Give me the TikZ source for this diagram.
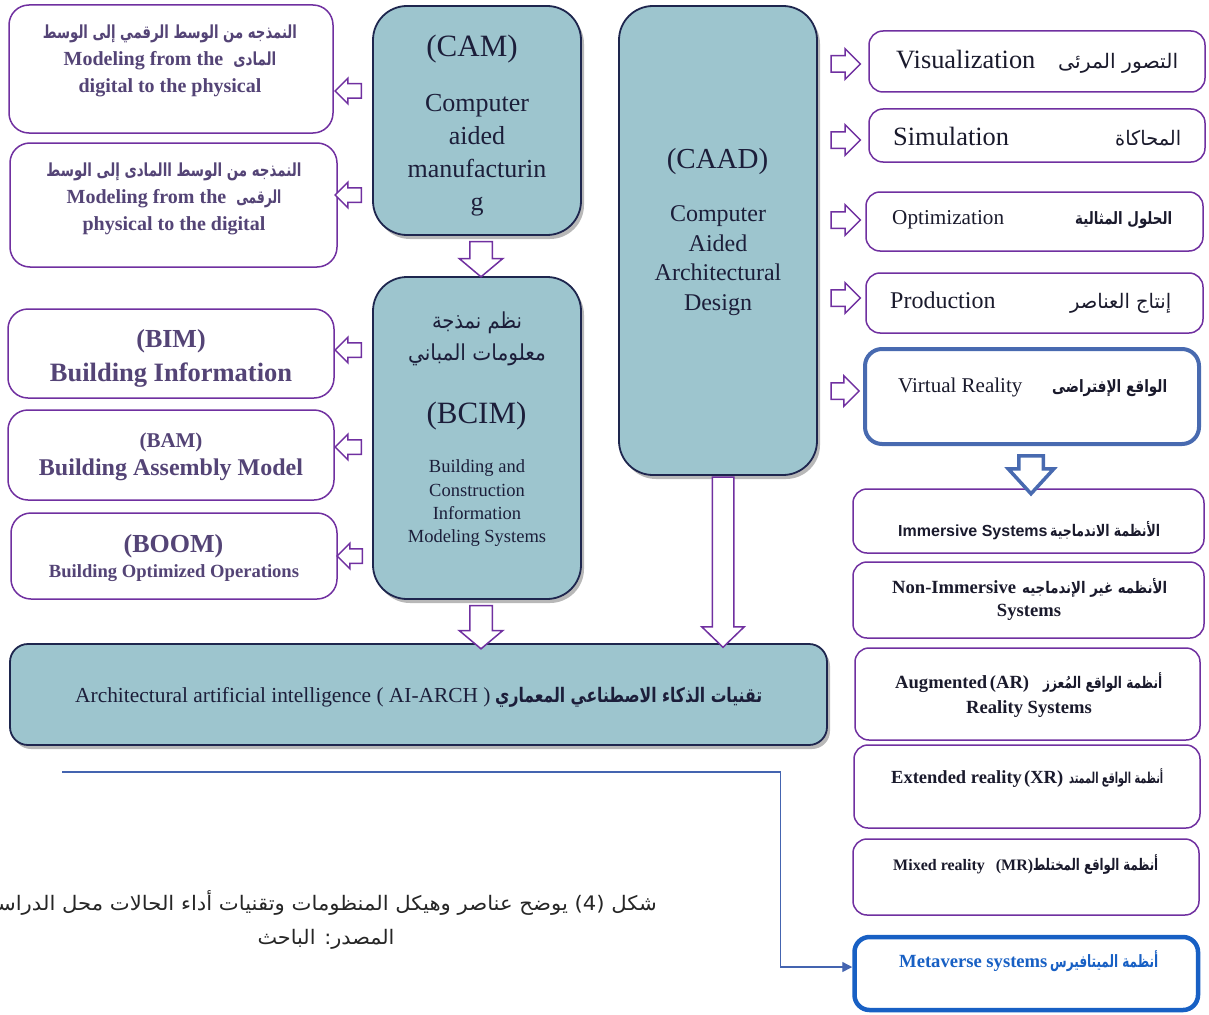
\documentclass[tikz,border=0pt]{standalone}
\usepackage{fontspec}
\usepackage{graphicx}
\setmainfont{Liberation Serif}
\newfontfamily\arabicfont[Script=Arabic]{DejaVu Sans}
\newfontfamily\latinsans{Liberation Sans}
\TeXXeTstate=1
\usetikzlibrary{calc,shapes.arrows,shadows,arrows.meta}

\definecolor{framepurple}{RGB}{112,48,160}
\definecolor{panelfill}{RGB}{157,197,206}
\definecolor{paneledge}{RGB}{30,38,78}
\definecolor{paneltext}{RGB}{28,30,58}
\definecolor{lefttext}{RGB}{84,68,118}
\definecolor{righttext}{RGB}{26,26,44}
\definecolor{vrblue}{RGB}{72,106,176}
\definecolor{metablue}{RGB}{24,96,196}
\definecolor{linkblue}{RGB}{68,100,176}

% font size helper (size = leading)
\newcommand\fsz[1]{\fontsize{#1}{#1}\selectfont}
% Arabic runs: [font size]{set width}{text}; height kept, width fitted
\newcommand\arbox[3][18]{\resizebox{#2}{\height}{\fontsize{#1}{#1}\arabicfont #3}}
\newcommand\arboxb[3][15]{\resizebox{#2}{\height}{\fontsize{#1}{#1}\arabicfont\bfseries #3}}
% box from its corners: style, name, x1, y1, x2, y2
\newcommand\boxat[6]{\node[#1, minimum width={#5-#3}, minimum height={#6-#4}] (#2) at ({(#3+#5)/2},{(#4+#6)/2}) {};}
% hollow block arrow: style, name, direction, tail point, tip point
\newcommand\blockarrow[5]{\path let \p1=#4, \p2=#5, \n1={veclen(\x2-\x1,\y2-\y1)} in
  node[#1, minimum height=\n1, shape border rotate=#3] (#2) at ($(\p1)!0.5!(\p2)$) {};}

\tikzset{
  lbox/.style={draw=framepurple, line width=1.5pt, rounded corners=20pt, fill=white, inner sep=0pt},
  rbox/.style={draw=framepurple, line width=1.5pt, rounded corners=14pt, fill=white, inner sep=0pt},
  vrbox/.style={draw=vrblue, line width=4pt, rounded corners=17pt, fill=white, inner sep=0pt},
  metabox/.style={draw=metablue, line width=4.5pt, rounded corners=15pt, fill=white, inner sep=0pt},
  panel/.style={draw=paneledge, line width=1.8pt, fill=panelfill, rounded corners=34pt, inner sep=0pt,
    drop shadow={shadow xshift=3pt, shadow yshift=-4pt, opacity=0.28, fill=black}},
  aibox/.style={panel, rounded corners=18pt},
  arrowbase/.style={single arrow, draw=framepurple, fill=white, line width=1.5pt, minimum width=0pt,
    single arrow head indent=0pt},
  harrowL/.style={arrowbase, inner sep=6.5pt, single arrow head extend=5.5pt, single arrow tip angle=90},
  harrowR/.style={arrowbase, inner sep=7.5pt, single arrow head extend=7pt, single arrow tip angle=90},
  varrow/.style={arrowbase, inner sep=10.5pt, single arrow head extend=10.5pt, single arrow tip angle=100},
  varrowC/.style={arrowbase, inner sep=10pt, single arrow head extend=10.5pt, single arrow tip angle=92},
  vrarrow/.style={arrowbase, draw=vrblue, line width=3.5pt, inner sep=10.5pt, single arrow head extend=10.5pt, single arrow tip angle=85},
  txt/.style={inner sep=0pt, anchor=base},
  link/.style={draw=linkblue, line width=1.4pt, -{Triangle[length=10pt,width=10pt]}},
}

\begin{document}
\begin{tikzpicture}[x=1pt, y=-1pt]
\fill[white] (0,0) rectangle (1209,1014);
\useasboundingbox (0,0) rectangle (1209,1014);

% ---------- boxes ----------
\boxat{lbox}{l1}{9}{5}{333}{133}
\boxat{lbox}{l2}{10}{143}{337}{267}
\boxat{lbox}{bim}{8}{309}{334}{398}
\boxat{lbox}{bam}{8}{410}{334}{500}
\boxat{lbox}{boom}{11}{513}{337}{599}
\boxat{panel}{cam}{373}{6}{581}{235}
\boxat{panel}{bcim}{373}{277}{581}{599}
\boxat{panel}{caad}{619}{6}{817}{475}
\boxat{aibox}{ai}{10}{644}{827}{745}
\boxat{rbox}{vis}{869}{31}{1205}{92}
\boxat{rbox}{sim}{869}{109}{1205}{162}
\boxat{rbox}{opt}{866}{192}{1203}{251}
\boxat{rbox}{prod}{866}{273}{1203}{333}
\boxat{vrbox}{vr}{865}{349}{1199}{444}
\boxat{rbox}{imm}{853}{489}{1204}{553}
\boxat{rbox}{nonimm}{853}{562}{1204}{638}
\boxat{rbox}{ar}{855}{648}{1200}{740}
\boxat{rbox}{xr}{854}{745}{1200}{828}
\boxat{rbox}{mr}{853}{839}{1199}{915}
\boxat{metabox}{meta}{854.5}{937}{1198}{1010}

% ---------- left column texts (node base = last line) ----------
\node[txt, align=center, text=lefttext, font=\bfseries\fontsize{20}{27}\selectfont] (tl1) at (170,93)
  {\arboxb[18]{254pt}{\beginR النمذجه من الوسط الرقمي إلى الوسط\endR}\\Modeling from the\ \ \arboxb[18]{43pt}{\beginR المادى\endR}\\digital to the physical};
\node[txt, align=center, text=lefttext, font=\bfseries\fontsize{20}{27}\selectfont] (tl2) at (174,230)
  {\arboxb[18]{255pt}{\beginR النمذجه من الوسط االمادى إلى الوسط\endR}\\Modeling from the\ \ \arboxb[18]{45pt}{\beginR الرقمى\endR}\\physical to the digital};
\node[txt, text=lefttext, font=\bfseries\fsz{26}] (tbim1) at (171,347.5) {(BIM)};
\node[txt, text=lefttext, font=\bfseries\fsz{26.5}] (tbim2) at (171,381) {Building Information};
\node[txt, text=lefttext, font=\bfseries\fsz{21}] (tbam1) at (171,447) {(BAM)};
\node[txt, text=lefttext, font=\bfseries\fsz{24}] (tbam2) at (171,475) {Building Assembly Model};
\node[txt, text=lefttext, font=\bfseries\fsz{26}] (tboom1) at (173.5,552) {(BOOM)};
\node[txt, text=lefttext, font=\bfseries\fsz{18.6}] (tboom2) at (174,577) {Building Optimized Operations};

% ---------- panel texts ----------
\node[txt, text=paneltext, font=\fsz{31}] (tcam1) at (472,57) {(CAM)};
\node[txt, align=center, text=paneltext, font=\fontsize{26}{33}\selectfont] (tcam2) at (477,210)
  {Computer\\aided\\manufacturin\\g};
\node[txt, text=paneltext, font=\fsz{29}] (tcaad1) at (717.5,168) {(CAAD)};
\node[txt, align=center, text=paneltext, font=\fontsize{24}{29.5}\selectfont] (tcaad2) at (718,310)
  {Computer\\Aided\\Architectural\\Design};
\node[txt, text=paneltext] (tbcim1) at (477,328) {\arbox[22]{90pt}{\beginR نظم نمذجة\endR}};
\node[txt, text=paneltext] (tbcim2) at (477,360) {\arbox[22]{138pt}{\beginR معلومات المباني\endR}};
\node[txt, text=paneltext, font=\fsz{31}] (tbcim3) at (476.5,423) {(BCIM)};
\node[txt, align=center, text=paneltext, font=\fontsize{18.5}{23.3}\selectfont] (tbcim4) at (477,542.6)
  {Building and\\Construction\\Information\\Modeling Systems};
\node[txt, anchor=base west, text=paneltext] (tai) at (75,702)
  {\makebox[687pt][l]{\fsz{21.4}Architectural artificial intelligence ( AI-ARCH )\hfill\arboxb[20]{267pt}{\beginR تقنيات الذكاء الاصطناعي المعماري\endR}}};

% ---------- right column texts ----------
\node[txt, anchor=base west, text=righttext] (tvis) at (896,68.3)
  {\makebox[282pt][l]{\fsz{26.4}Visualization\hfill\arbox[20]{120pt}{\beginR التصور المرئى\endR}}};
\node[txt, anchor=base west, text=righttext] (tsim) at (893,146)
  {\makebox[288pt][l]{\fsz{26.4}Simulation\hfill\arbox[20]{66pt}{\beginR المحاكاة\endR}}};
\node[txt, anchor=base west, text=righttext] (topt) at (892,224)
  {\makebox[280pt][l]{\fsz{21.2}Optimization\hfill\arboxb[17]{97pt}{\beginR الحلول المثالية\endR}}};
\node[txt, anchor=base west, text=righttext] (tprod) at (890,308)
  {\makebox[281pt][l]{\fsz{24}Production\hfill\arbox[20]{101pt}{\beginR إنتاج العناصر\endR}}};
\node[txt, anchor=base west, text=righttext] (tvr) at (898,392.7)
  {\makebox[269pt][l]{\fsz{21}Virtual Reality\hfill\arboxb[17]{115pt}{\beginR الواقع الإفتراضى\endR}}};
\node[txt, anchor=base west, text=righttext] (timm) at (898,536.7)
  {\makebox[262pt][l]{{\latinsans\bfseries\fsz{16}Immersive Systems}\hfill\arboxb[16]{110pt}{\beginR الأنظمة الاندماجية\endR}}};
\node[txt, anchor=base west, text=righttext, font=\bfseries\fsz{18.6}] (tnon1) at (892,593)
  {\makebox[275pt][l]{Non-Immersive\hfill\arboxb[16]{145pt}{\beginR الأنظمه غير الإندماجيه\endR}}};
\node[txt, text=righttext, font=\bfseries\fsz{18.6}] (tnon2) at (1029,616.7) {Systems};
\node[txt, anchor=base west, text=righttext, font=\bfseries\fsz{18.6}] (tar1) at (895,688)
  {\makebox[267pt][l]{Augmented\hfill(AR)\hspace{14pt}\arboxb[16]{119pt}{\beginR أنظمة الواقع المُعزز\endR}}};
\node[txt, text=righttext, font=\bfseries\fsz{18.6}] (tar2) at (1029,713) {Reality Systems};
\node[txt, anchor=base west, text=righttext, font=\bfseries\fsz{18.5}] (txr) at (891,783)
  {\makebox[272pt][l]{Extended reality\hfill(XR)\hspace{6pt}\arboxb[15]{94pt}{\beginR أنظمة الواقع الممتد\endR}}};
\node[txt, anchor=base west, text=righttext, font=\bfseries\fsz{16}] (tmr) at (893,870)
  {\makebox[265pt][l]{Mixed reality\hfill(MR)\arboxb[16]{125pt}{\beginR أنظمة الواقع المختلط\endR}}};
\node[txt, anchor=base west, text=metablue, font=\bfseries\fsz{18.6}] (tmeta) at (899,967.7)
  {\makebox[259pt][l]{Metaverse systems\hfill\arboxb[17]{108pt}{\beginR أنظمة الميتافيرس\endR}}};

% ---------- caption ----------
\node[txt, anchor=base east, text=black!85] (cap1) at (657,910)
  {\arbox[20]{670pt}{\beginR شكل \beginL(4)\endL{} يوضح عناصر وهيكل المنظومات وتقنيات أداء الحالات محل الدراسة\endR}};
\node[txt, text=black!85] (cap2) at (326,944) {\arbox[20]{137pt}{\beginR المصدر: الباحث\endR}};

% ---------- block arrows ----------
\blockarrow{harrowL}{a1}{180}{($(cam.west|-0,91)+(-7,0)$)}{($(l1.east|-0,91)+(5,0)$)}
\blockarrow{harrowL}{a2}{180}{($(cam.west|-0,195)+(-7,0)$)}{($(l2.east|-0,195)+(1,0)$)}
\blockarrow{harrowL}{a3}{180}{($(bcim.west|-0,350)+(-7,0)$)}{($(bim.east|-0,350)+(4,0)$)}
\blockarrow{harrowL}{a4}{180}{($(bcim.west|-0,447)+(-7,0)$)}{($(bam.east|-0,447)+(4,0)$)}
\blockarrow{harrowL}{a5}{180}{($(bcim.west|-0,556)+(-6,0)$)}{($(boom.east|-0,556)+(3,0)$)}

\blockarrow{harrowR}{b1}{0}{($(caad.east|-0,64)+(9,0)$)}{($(vis.west|-0,64)+(-12,0)$)}
\blockarrow{harrowR}{b2}{0}{($(caad.east|-0,140)+(9,0)$)}{($(sim.west|-0,140)+(-12,0)$)}
\blockarrow{harrowR}{b3}{0}{($(caad.east|-0,220)+(9,0)$)}{($(opt.west|-0,220)+(-9,0)$)}
\blockarrow{harrowR}{b4}{0}{($(caad.east|-0,298)+(9,0)$)}{($(prod.west|-0,298)+(-9,0)$)}
\blockarrow{harrowR}{b5}{0}{($(caad.east|-0,391)+(9,0)$)}{($(vr.west|-0,391)+(-8,0)$)}

\blockarrow{varrow}{d1}{270}{($(cam.south)+(4,1)$)}{($(bcim.north)+(4,-4)$)}
\blockarrow{varrow}{d2}{270}{($(bcim.south)+(4,1)$)}{($(ai.north-|bcim.south)+(4,1)$)}
\blockarrow{varrowC}{d3}{270}{($(caad.south)+(5,-4)$)}{($(ai.north-|caad.south)+(5,-1)$)}
\blockarrow{vrarrow}{d4}{270}{($(vr.south)+(-1,5)$)}{($(imm.north)+(2.5,-3)$)}

% ---------- connector to the metaverse box ----------
\coordinate (cstart) at (62,772);
\draw[link] (cstart) -| ($(meta.west)+(-71.5,-6.5)$) -- ($(meta.west)+(0,-6.5)$);
\end{tikzpicture}
\end{document}
